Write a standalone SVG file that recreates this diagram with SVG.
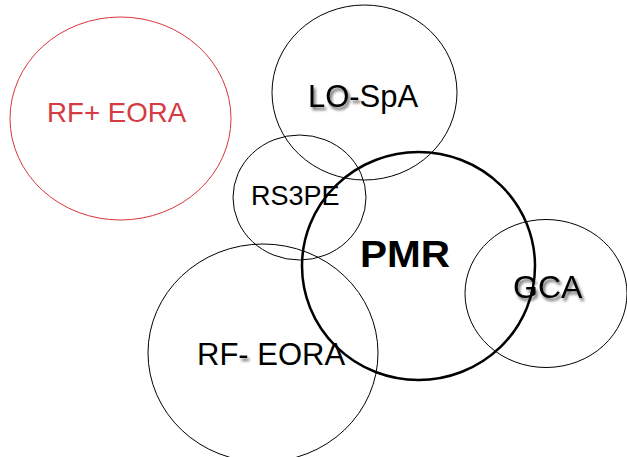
<svg xmlns="http://www.w3.org/2000/svg" width="627" height="457" viewBox="0 0 627 457">
<defs>
<filter id="sh" x="-20%" y="-30%" width="150%" height="170%">
<feGaussianBlur in="SourceAlpha" stdDeviation="1.5"/>
<feOffset dx="2" dy="2.5" result="b"/>
<feComponentTransfer><feFuncA type="linear" slope="0.6"/></feComponentTransfer>
<feMerge><feMergeNode/><feMergeNode in="SourceGraphic"/></feMerge>
</filter>
</defs>
<style>
.e{fill:none;stroke:#000;stroke-width:1}
.t{font-family:"Liberation Sans",Arial,sans-serif;fill:#000}
</style>
<rect width="627" height="457" fill="#fff"/>
<g id="rfpos">
<ellipse cx="120.5" cy="118.5" rx="110.5" ry="101.5" fill="none" stroke="#d9343c" stroke-width="1"/>
<text class="t" x="47" y="122" font-size="27.7" style="fill:#d63a42">RF+ EORA</text>
</g>
<g id="lospa">
<ellipse class="e" cx="364.5" cy="92.5" rx="92.5" ry="87.5"/>
<text class="t" x="308" y="107" font-size="31" filter="url(#sh)">LO-</text>
<text class="t" x="359.5" y="107" font-size="31">SpA</text>
</g>
<g id="rs3pe">
<ellipse class="e" cx="299.5" cy="197.5" rx="66.5" ry="62.5"/>
<text class="t" x="251" y="205" font-size="27">RS3PE</text>
</g>
<g id="rfneg">
<ellipse class="e" cx="263" cy="353" rx="115" ry="109"/>
<text class="t" x="197" y="365" font-size="31">RF<tspan filter="url(#sh)">-</tspan> EORA</text>
</g>
<g id="gca">
<ellipse class="e" cx="546" cy="293.5" rx="81" ry="74"/>
<text class="t" x="513" y="298" font-size="32" filter="url(#sh)">GCA</text>
</g>
<g id="pmr">
<ellipse cx="418.5" cy="266" rx="116.5" ry="114" fill="none" stroke="#000" stroke-width="2.5"/>
<text class="t" x="360" y="267" font-size="37" font-weight="bold" textLength="90" lengthAdjust="spacingAndGlyphs">PMR</text>
</g>
<g id="connectors"/>
</svg>
